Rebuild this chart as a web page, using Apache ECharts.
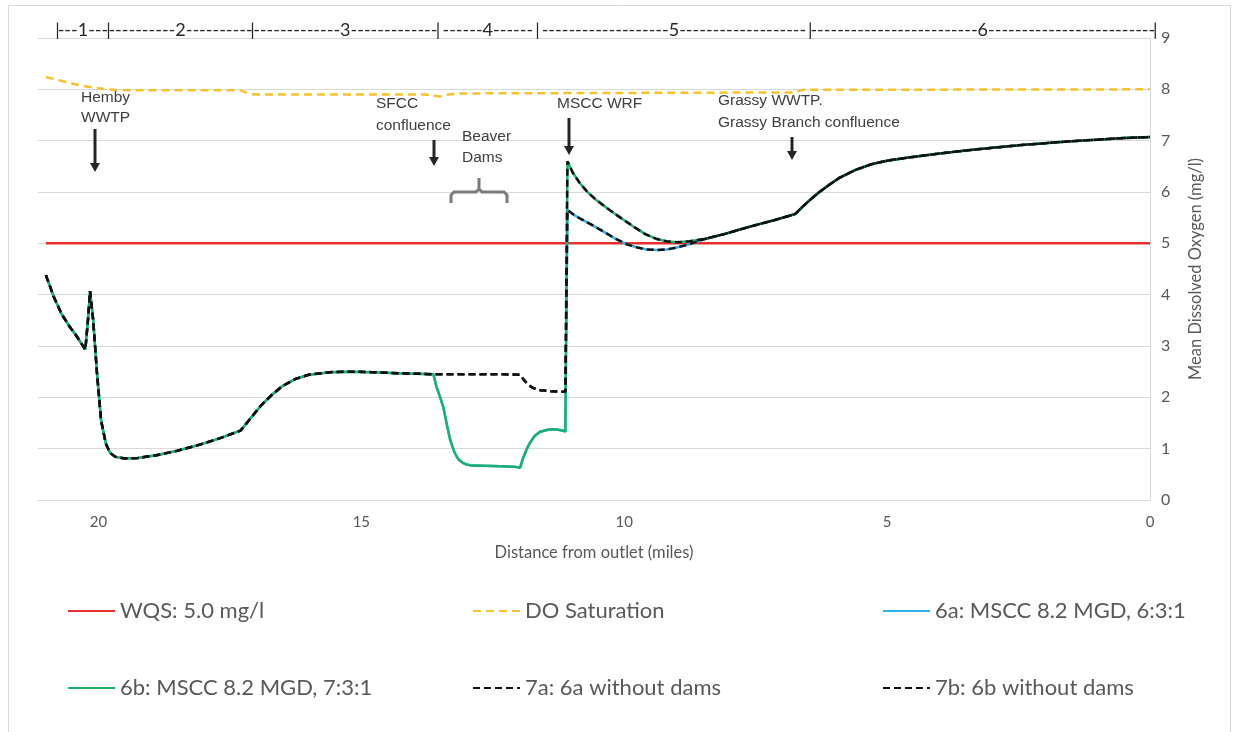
<!DOCTYPE html>
<html><head><meta charset="utf-8">
<script src="https://cdn.jsdelivr.net/npm/echarts@6/dist/echarts.min.js"></script>
<style>html,body{margin:0;padding:0;background:#fff}#c{width:1234px;height:732px}</style>
</head><body><div id="c"></div>
<script>
// ---------------- DATA ----------------
const xTickInterval = 5;
const seriesNames = ['WQS: 5.0 mg/l', 'DO Saturation', '6a: MSCC 8.2 MGD, 6:3:1',
  '6b: MSCC 8.2 MGD, 7:3:1', '7a: 6a without dams', '7b: 6b without dams'];

const wqsMiles = [21.0, 0.0];
const wqsDO = [5.0, 5.0];

const satMiles = [21.0, 20.8, 20.6, 20.4, 20.2, 20.0, 19.7, 19.4, 17.3, 17.2, 17.05, 13.8, 13.65, 13.5, 13.35, 13.1, 10.0, 6.8, 6.6, 0.0];
const satDO    = [8.24, 8.19, 8.14, 8.09, 8.05, 8.02, 7.99, 7.98, 7.98, 7.94, 7.90, 7.90, 7.88, 7.86, 7.90, 7.92, 7.93, 7.94, 7.99, 8.00];

// common upstream (all scenarios)
const upMiles = [21.0, 20.85, 20.7, 20.55, 20.42, 20.25, 20.2, 20.16, 20.1, 20.03, 19.95, 19.86, 19.78, 19.68, 19.5, 19.25, 18.9, 18.5, 18.1, 17.7, 17.3, 17.1, 16.9, 16.7, 16.5, 16.25, 16.0, 15.6, 15.2, 14.8, 14.3, 13.63];
const upDO    = [4.38, 3.96, 3.62, 3.38, 3.20, 2.93, 3.50, 4.07, 3.50, 2.50, 1.55, 1.10, 0.92, 0.84, 0.81, 0.82, 0.87, 0.96, 1.07, 1.20, 1.35, 1.60, 1.85, 2.05, 2.22, 2.36, 2.44, 2.49, 2.50, 2.49, 2.47, 2.45];

// section with beaver dams (6a / 6b)
const damsMiles = [13.57, 13.5, 13.44, 13.37, 13.31, 13.23, 13.16, 13.08, 13.0, 12.9, 12.5, 12.1, 11.98, 11.93, 11.86, 11.79, 11.7, 11.6, 11.45, 11.35, 11.25, 11.16, 11.12];
const damsDO    = [2.20, 2.00, 1.80, 1.45, 1.17, 0.93, 0.80, 0.73, 0.69, 0.67, 0.66, 0.65, 0.63, 0.80, 0.98, 1.12, 1.25, 1.33, 1.37, 1.38, 1.37, 1.35, 1.33];

// same section without dams (7a / 7b)
const noDamsMiles = [13.2, 12.7, 12.3, 11.98, 11.9, 11.82, 11.73, 11.6, 11.4, 11.2, 11.12];
const noDamsDO    = [2.45, 2.45, 2.45, 2.44, 2.33, 2.24, 2.18, 2.14, 2.12, 2.11, 2.11];

// downstream of MSCC WRF, scenario a (6:3:1)
const headAMiles = [11.08, 10.95, 10.8, 10.65, 10.5, 10.33, 10.15, 9.95, 9.75, 9.57, 9.38, 9.19, 9.0, 8.8, 8.6, 8.45];
const headADO    = [5.65, 5.55, 5.46, 5.38, 5.29, 5.19, 5.08, 4.98, 4.92, 4.88, 4.87, 4.88, 4.92, 4.97, 5.04, 5.09];

// downstream of MSCC WRF, scenario b (7:3:1)
const headBMiles = [11.08, 10.98, 10.85, 10.7, 10.55, 10.4, 10.2, 10.0, 9.8, 9.6, 9.4, 9.2, 9.0, 8.75, 8.45];
const headBDO    = [6.60, 6.38, 6.18, 6.00, 5.86, 5.74, 5.59, 5.45, 5.31, 5.18, 5.09, 5.04, 5.02, 5.04, 5.09];

// common tail
const tailMiles = [8.1, 7.8, 7.45, 7.15, 6.75, 6.6, 6.45, 6.3, 6.1, 5.9, 5.6, 5.3, 5.0, 4.6, 4.0, 3.5, 3.0, 2.5, 2.0, 1.5, 1.0, 0.5, 0.0];
const tailDO    = [5.18, 5.27, 5.37, 5.45, 5.57, 5.72, 5.86, 5.99, 6.14, 6.28, 6.43, 6.54, 6.61, 6.67, 6.75, 6.81, 6.86, 6.91, 6.95, 6.99, 7.02, 7.05, 7.07];

// reach segments along top (boundaries in miles)
const segBounds = [20.78, 19.81, 17.07, 13.54, 11.65, 6.46, -0.1];
const segLabels = ['1', '2', '3', '4', '5', '6'];

// ---------------- BUILD ----------------
const zip = (m, v) => m.map((x, i) => [x, v[i]]);
const cat = (...pairs) => pairs.reduce((acc, p) => acc.concat(zip(p[0], p[1])), []);

const d6a = cat([upMiles, upDO], [damsMiles, damsDO], [headAMiles, headADO], [tailMiles, tailDO]);
const d6b = cat([upMiles, upDO], [damsMiles, damsDO], [headBMiles, headBDO], [tailMiles, tailDO]);
const d7a = cat([upMiles, upDO], [noDamsMiles, noDamsDO], [headAMiles, headADO], [tailMiles, tailDO]);
const d7b = cat([upMiles, upDO], [noDamsMiles, noDamsDO], [headBMiles, headBDO], [tailMiles, tailDO]);

const grey = '#595959';
const legendFont = 'Lato, "Noto Sans", sans-serif';
const annFont = '"Liberation Sans", Arial, sans-serif';

function line(name, data, color, width, dash) {
  return {
    type: 'line', name, data, symbol: 'none', showSymbol: false, smooth: false,
    lineStyle: { color, width, type: dash || 'solid' }, itemStyle: { color },
    emphasis: { disabled: true }, silent: true
  };
}

const legendPos = [[67, 600], [472, 600], [882, 600], [67, 677], [472, 677], [882, 677]];

const option = {
  animation: false,
  backgroundColor: '#fff',
  grid: { left: 38, right: 84, top: 38, bottom: 232 },
  xAxis: {
    type: 'value', inverse: true, min: 0, max: 21.15, interval: xTickInterval,
    axisLine: { show: true, onZero: false, lineStyle: { color: '#d9d9d9', width: 1 } },
    axisTick: { show: false }, splitLine: { show: false },
    axisLabel: { color: grey, fontSize: 15, margin: 15, showMaxLabel: false, fontFamily: legendFont },
    name: 'Distance from outlet (miles)', nameLocation: 'middle', nameGap: 44,
    nameTextStyle: { color: grey, fontSize: 16.5, fontFamily: legendFont }
  },
  yAxis: {
    type: 'value', position: 'right', min: 0, max: 9, interval: 1,
    axisLine: { show: true, lineStyle: { color: '#d9d9d9', width: 1 } },
    axisTick: { show: false },
    splitLine: { lineStyle: { color: '#d9d9d9', width: 1 } },
    axisLabel: { color: grey, fontSize: 16, margin: 11, fontFamily: legendFont },
    name: 'Mean Dissolved Oxygen (mg/l)', nameLocation: 'middle', nameGap: 37, nameRotate: 90,
    nameTextStyle: { color: grey, fontSize: 16.5, fontFamily: legendFont }
  },
  legend: seriesNames.map((n, i) => ({
    data: [n], left: legendPos[i][0], top: legendPos[i][1], padding: 0,
    itemWidth: 47, itemHeight: 14, selectedMode: false,
    itemStyle: { opacity: 0, color: 'rgba(0,0,0,0)', borderWidth: 0 },
    textStyle: { color: grey, fontSize: 22, fontFamily: legendFont }
  })),
  series: [
    line(seriesNames[0], zip(wqsMiles, wqsDO), '#E8312F', 2.5),
    line(seriesNames[1], zip(satMiles, satDO), '#F7C22B', 2.5, [8, 5]),
    line(seriesNames[2], d6a, '#2FB2EA', 2.5),
    line(seriesNames[3], d6b, '#1DB06E', 2.5),
    line(seriesNames[4], d7a, '#111111', 2.5, [7, 4]),
    line(seriesNames[5], d7b, '#111111', 2.5, [7, 4])
  ]
};

const chart = echarts.init(document.getElementById('c'));
chart.setOption(option);

// ---------------- ANNOTATIONS ----------------
const g = [];
// outer frame
g.push({ type: 'rect', shape: { x: 8.5, y: 5.5, width: 1222, height: 740 }, style: { fill: 'none', stroke: '#d9d9d9', lineWidth: 1 }, z: -1 });

// reach segment labels on top
const segFont = '18px ' + legendFont;
const ctx = document.createElement('canvas').getContext('2d');
ctx.font = segFont;
const dashW = ctx.measureText('-').width;
const barW = ctx.measureText('|').width;
const segPx = segBounds.map(m => chart.convertToPixel({ xAxisIndex: 0 }, m));
const segY = 30;
segPx.forEach(x => g.push({ type: 'text', x, y: segY, style: { text: '|', font: segFont, fill: '#262626', align: 'center', verticalAlign: 'middle' } }));
for (let i = 0; i < segLabels.length; i++) {
  const x0 = segPx[i], x1 = segPx[i + 1];
  const avail = (x1 - x0) - barW;
  const dw = ctx.measureText(segLabels[i]).width;
  const n = Math.max(1, Math.round((avail - dw) / 2 / dashW));
  const s = '-'.repeat(n) + segLabels[i] + '-'.repeat(n);
  g.push({ type: 'text', x: (x0 + x1) / 2, y: segY, style: { text: s, font: segFont, fill: '#262626', align: 'center', verticalAlign: 'middle' } });
}

function txt(x, y, s) {
  g.push({ type: 'text', x, y, style: { text: s, font: '15.5px ' + annFont, fill: '#404040', align: 'left', verticalAlign: 'middle' } });
}
function arrow(x, y0, y1) {
  g.push({ type: 'line', shape: { x1: x, y1: y0, x2: x, y2: y1 - 7 }, style: { stroke: '#262626', lineWidth: 3 } });
  g.push({ type: 'polygon', shape: { points: [[x - 5, y1 - 9], [x + 5, y1 - 9], [x, y1]] }, style: { fill: '#262626' } });
}
txt(81, 98, 'Hemby'); txt(81, 118, 'WWTP'); arrow(95, 129, 172);
txt(376, 104, 'SFCC'); txt(376, 126, 'confluence'); arrow(434, 140, 166);
txt(462, 137, 'Beaver'); txt(462, 158, 'Dams');
g.push({ type: 'polyline', shape: { points: [[451, 203], [451, 195], [454, 192], [476, 192], [479, 189], [479, 178], [479, 189], [482, 192], [504, 192], [507, 195], [507, 203]] }, style: { stroke: '#7a7a7a', lineWidth: 3, fill: 'none' } });
txt(557, 104, 'MSCC WRF'); arrow(569, 118, 155);
txt(718, 101, 'Grassy WWTP.'); txt(718, 123, 'Grassy Branch confluence'); arrow(792, 137, 160);

chart.setOption({ graphic: g });
</script></body></html>
